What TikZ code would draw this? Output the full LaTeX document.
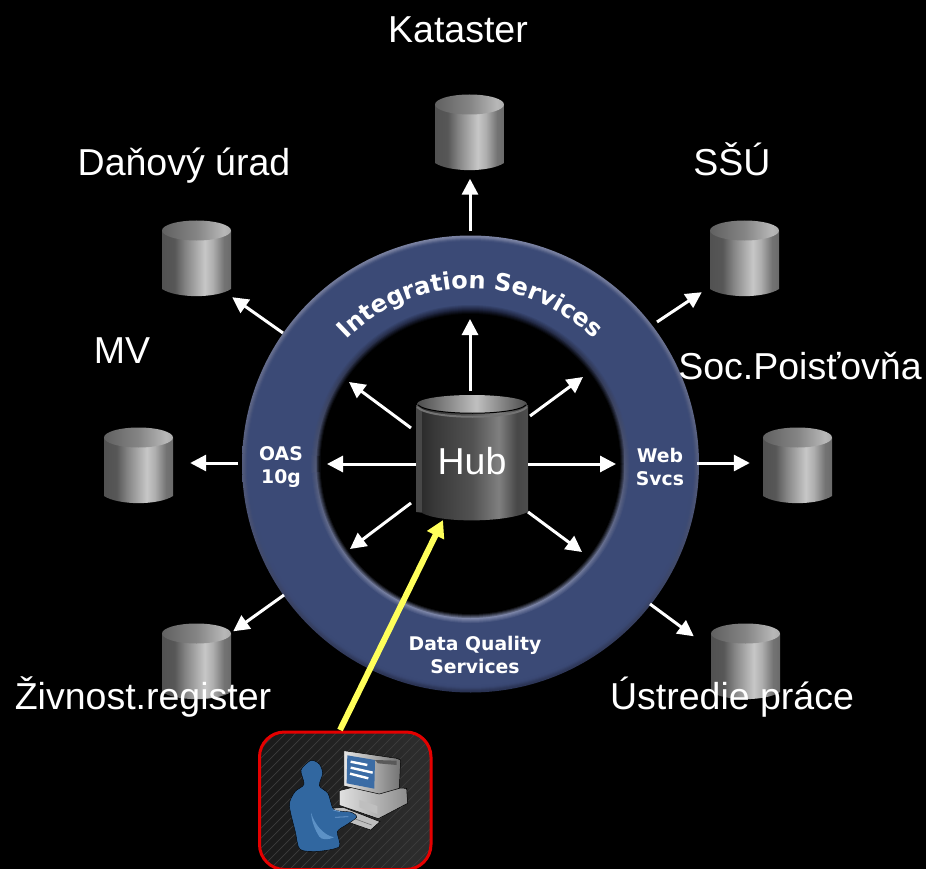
\documentclass[tikz,border=0pt]{standalone}
\usepackage{fontspec}
\setmainfont{Liberation Sans}
\newfontfamily\ringfont{DejaVu Sans}
\usetikzlibrary{arrows.meta,calc,decorations.text}
\definecolor{ringblue}{HTML}{3B4A76}
\definecolor{ringtop}{HTML}{7A82A2}
\definecolor{ringbot}{HTML}{2A3354}
\definecolor{innertop}{HTML}{1E2540}
\definecolor{innerbot}{HTML}{7F88AA}
\definecolor{screenblue}{RGB}{59,108,165}
\definecolor{userblue}{RGB}{49,103,160}
\definecolor{userlight}{RGB}{92,145,198}
\definecolor{userline}{RGB}{110,155,205}
\definecolor{arrowyellow}{RGB}{255,255,90}
\pgfdeclarehorizontalshading{cylbody}{100bp}{color(0bp)=(black!65!white); color(25bp)=(black!68!white); color(34bp)=(black!66!white); color(42bp)=(black!48!white); color(56bp)=(black!22!white); color(62bp)=(black!32!white); color(70bp)=(black!55!white); color(75bp)=(black!58!white); color(100bp)=(black!58!white)}
\pgfdeclarehorizontalshading{cyltop}{100bp}{color(0bp)=(black!62!white); color(25bp)=(black!62!white); color(50bp)=(black!48!white); color(70bp)=(black!28!white); color(75bp)=(black!32!white); color(100bp)=(black!32!white)}
\pgfdeclarehorizontalshading{hubbody}{100bp}{color(0bp)=(black!85!white); color(25bp)=(black!85!white); color(33bp)=(black!78!white); color(50bp)=(black!68!white); color(62bp)=(black!50!white); color(70bp)=(black!72!white); color(75bp)=(black!70!white); color(100bp)=(black!70!white)}
\pgfdeclarehorizontalshading{hubtop}{100bp}{color(0bp)=(black!70!white); color(25bp)=(black!70!white); color(52bp)=(black!25!white); color(75bp)=(black!70!white); color(100bp)=(black!70!white)}
\tikzset{
  arr/.style={draw=white,line width=3pt,-{Triangle[length=16pt,width=16pt]}},
  lbl/.style={text=white,font=\fontsize{37.5}{37.5}\selectfont,inner sep=0pt,anchor=base},
  ringlbl/.style={text=white,font=\ringfont\bfseries\fontsize{18.8}{23}\selectfont,align=center,inner sep=0pt},
  cylnode/.style={inner sep=0pt,minimum width=69pt,minimum height=77pt},
}
\newcommand{\cylshape}[2]{%
  \path[shading=cylbody] (#1-34.5,#2-28) -- (#1+34.5,#2-28) -- (#1+34.5,#2+30)
     .. controls (#1+20,#2+39.5) and (#1-20,#2+39.5) .. (#1-34.5,#2+30) -- cycle;
  \path[shading=cyltop] (#1,#2-28.5) ellipse [x radius=34.5,y radius=10];
}
\begin{document}
\begin{tikzpicture}[x=1pt,y=-1pt]
\useasboundingbox (0,0) rectangle (926,869);
\fill[black] (0,0) rectangle (926,869);
% ring: bevel on the outer edge
\path[top color=ringtop,bottom color=ringbot] (470.5,464) circle [radius=228.5];
\foreach \r/\o in {227/.15,226/.3,225/.45,224/.6,223/.75,222/.9,221/1}{
  \fill[ringblue,opacity=\o] (470.5,464) circle [radius=\r];
}
% ring: bevel on the inner edge
\foreach \r/\p in {159/20,158/40,157/60,156/80,155/100}{
  \path[top color=innertop!\p!ringblue,bottom color=innerbot!\p!ringblue] (470.5,464) circle [radius=\r];
}
\foreach \r/\p in {154/75,153/55,152/35,151/15}{
  \path[top color=innertop!\p!black,bottom color=innerbot!\p!black] (470.5,464) circle [radius=\r];
}
\fill[black] (470.5,464) circle [radius=150];
% ring texts
\path[decorate,decoration={text along path,text align=center,
  text={|\ringfont\bfseries\fontsize{24}{24}\selectfont\color{white}|Integration Services}}]
  plot[domain=141:39,samples=50] ({470.5+175.5*cos(\x)},{464-175.5*sin(\x)});
\node[ringlbl] (oas) at (281,467) {OAS\\10g};
\node[ringlbl] (web) at (660,467) {Web\\Svcs};
\node[ringlbl] (dqs) at (475,655) {Data Quality\\Services};
% databases
\cylshape{469.5}{133}
\cylshape{196.5}{259}
\cylshape{744.5}{259}
\cylshape{138.5}{466}
\cylshape{797.5}{466}
\cylshape{196.5}{662}
\cylshape{745.5}{662}
\node[cylnode] (kat) at (469.5,133) {};
\node[cylnode] (dan) at (196.5,259) {};
\node[cylnode] (ssu) at (744.5,259) {};
\node[cylnode] (mv) at (138.5,466) {};
\node[cylnode] (soc) at (797.5,466) {};
\node[cylnode] (ziv) at (196.5,662) {};
\node[cylnode] (ust) at (745.5,662) {};
% hub
\path[shading=hubbody] (416,405) -- (528,405) -- (528,512) .. controls (505,523) and (440,523) .. (422,513) -- (416,512) -- cycle;
\fill[black!72!white] (416,405) rectangle (422,512);
\path[shading=hubtop] (472,404) ellipse [x radius=55,y radius=9];
\draw[black,line width=1pt] (418,405) .. controls (430,416) and (515,416) .. (526,405);
\draw[black!55!white,line width=2pt] (417,407) .. controls (430,420) and (515,420) .. (527,407);
\node[minimum width=112pt,minimum height=118pt,inner sep=0pt] (hub) at (472,461) {};
\node[lbl] (hublbl) at (472,474) {Hub};
% outer connectors
\coordinate (katOut) at (470,231);
\coordinate (danOut) at (283,333);
\coordinate (ssuOut) at (657,322);
\coordinate (mvOut) at (238,463);
\coordinate (socOut) at (697,463);
\coordinate (zivOut) at (284,595);
\coordinate (ustOut) at (650,604);
\draw[arr] (katOut) -- ($(kat.south)+(.5,7)$);
\draw[arr] (danOut) -- ($(dan.south east)+(1,-.5)$);
\draw[arr] (ssuOut) -- ($(ssu.south west)+(-8,-5.5)$);
\draw[arr] (mvOut) -- ($(mv.east)+(17,-3)$);
\draw[arr] (socOut) -- ($(soc.west)+(-13,-3)$);
\draw[arr] (zivOut) -- ($(ziv.north east)+(2,8)$);
\draw[arr] (ustOut) -- ($(ust.north west)+(-17,13)$);
% inner connectors
\coordinate (inU) at (470,319);
\coordinate (inUL) at (349,382);
\coordinate (inUR) at (583,377);
\coordinate (inL) at (327,464);
\coordinate (inR) at (616,464);
\coordinate (inLL) at (350,549);
\coordinate (inLR) at (582,552);
\draw[arr] ($(hub)+(-2,-70)$) -- (inU);
\draw[arr] ($(hub)+(-61,-33)$) -- (inUL);
\draw[arr] ($(hub)+(58,-45)$) -- (inUR);
\draw[arr] ($(hub)+(-56,3)$) -- (inL);
\draw[arr] ($(hub)+(56,3)$) -- (inR);
\draw[arr] ($(hub)+(-61,42)$) -- (inLL);
\draw[arr] ($(hub)+(56,51)$) -- (inLR);
% user box
\node[minimum width=172pt,minimum height=138pt,inner sep=0pt] (user) at (345,801) {};
\begin{scope}
  \clip (0,0) rectangle (926,869);
  \begin{scope}
    \path[clip,rounded corners=25pt] (259,732) rectangle (431,869.5);
    \path[left color=black!90!white,right color=black!82!white] (259,732) rectangle (431,870);
    \foreach \k in {0,10,...,330}{
      \draw[black!76!white,line width=.7pt] (259+\k-160,880) -- (259+\k,720);
    }
  \end{scope}
  \draw[red!90!black,line width=3pt,rounded corners=25pt] (259.5,732) rectangle (431,869.5);
  \begin{scope}[shift={(240,720)},x=.3333pt,y=-.3333pt]
    % computer
    \path[left color=black!12!white,right color=black!45!white,draw=black,line width=.5pt] (298,212) -- (345,200) -- (500,205) -- (503,250) -- (415,296) -- (298,256) -- cycle;
    \fill[black!25!white] (358,240) -- (412,258) -- (412,282) -- (358,262) -- cycle;
    \path[left color=black!10!white,right color=black!55!white,draw=black,line width=.5pt] (312,92) -- (470,115) -- (482,120) -- (478,205) -- (418,222) -- (312,198) -- cycle;
    \fill[black!65!white] (405,120) -- (470,122) -- (470,135) -- (414,130) -- cycle;
    \fill[screenblue] (322,106) -- (405,120) -- (403,206) -- (320,190) -- cycle;
    \draw[white,line width=2.4pt] (332,125) -- (382,135) (332,143) -- (398,158) (330,161) -- (385,175);
    % keyboard
    \path[fill=black!25!white,draw=black,line width=.5pt] (275,265) -- (310,262) -- (420,305) -- (392,330) -- (340,312) -- (285,290) -- cycle;
    \draw[black!55!white,line width=.6pt] (300,280) -- (395,315);
    % person
    \path[fill=userblue,draw=black,line width=.4pt] plot[smooth cycle,tension=.45] coordinates {
      (213,121) (238,132) (248,160) (238,197) (264,220) (277,262) (290,272) (335,277) (350,292)
      (320,314) (292,335) (298,380) (235,394) (180,388) (166,335) (148,255) (165,215) (192,193) (183,150)};
    \path[fill=userlight] (213,278) .. controls (225,315) and (250,345) .. (282,352) .. controls (265,360) and (245,360) .. (238,350) .. controls (225,330) and (215,305) .. (213,278) -- cycle;
    \draw[userline,line width=.8pt] (280,270) -- (300,275) (285,292) -- (325,290);
  \end{scope}
\end{scope}
% yellow connector
\coordinate (userTop) at (340,730);
\draw[draw=arrowyellow,line width=6pt,-{Triangle[length=17pt,width=18pt]}] (userTop) -- ($(hub)+(-29,59)$);
% labels
\node[lbl] (l1) at (458,43) {Kataster};
\node[lbl] (l2) at (184,176) {Daňový úrad};
\node[lbl] (l3) at (732,176) {SŠÚ};
\node[lbl] (l4) at (122,363) {MV};
\node[lbl] (l5) at (800,379) {Soc.Poisťovňa};
\node[lbl] (l6) at (143,709) {Živnost.register};
\node[lbl] (l7) at (732,709) {Ústredie práce};
\end{tikzpicture}
\end{document}
